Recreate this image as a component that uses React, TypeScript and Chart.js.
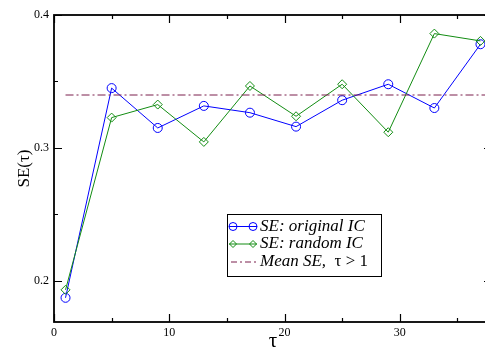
import React, { useEffect, useRef } from "react";
import { Chart, registerables } from "chart.js";

Chart.register(...registerables);

const TAU = [1, 5, 9, 13, 17, 21, 25, 29, 33, 37];
const SE_ORIGINAL = [0.1872, 0.345, 0.315, 0.3316, 0.3265, 0.316, 0.3359, 0.3479, 0.33, 0.378];
const SE_RANDOM = [0.1932, 0.3228, 0.3326, 0.3045, 0.3466, 0.3238, 0.3479, 0.3118, 0.386, 0.3805];
const MEAN_SE = 0.3398;
const MEAN_RANGE = [1, 38];
const X_MAJOR = [0, 10, 20, 30];
const X_MINOR = [5, 15, 25, 35];
const Y_MAJOR = [0.2, 0.3, 0.4];
const Y_MINOR = [0.25, 0.35];
const X_LABELS = ["0", "10", "20", "30"];
const Y_LABELS = ["0.2", "0.3", "0.4"];

const BLUE = "#0000ff";
const GREEN = "#128c12";
const MAROON = "#7a1f4c";
const SERIF = '"Liberation Serif", "DejaVu Serif", serif';

const framePlugin = {
  id: "frame",
  afterDraw(chart: any) {
    const { ctx, chartArea: a, scales } = chart;
    const xs = scales.x;
    const ys = scales.y;
    ctx.save();
    ctx.strokeStyle = "#000";
    ctx.lineWidth = 1.8;
    ctx.strokeRect(a.left, a.top, a.right - a.left, a.bottom - a.top);
    ctx.lineWidth = 1.2;
    const tick = (vals: number[], len: number, horiz: boolean) => {
      vals.forEach((v) => {
        ctx.beginPath();
        if (horiz) {
          const px = Math.round(xs.getPixelForValue(v)) + 0.5;
          ctx.moveTo(px, a.bottom);
          ctx.lineTo(px, a.bottom - len);
          ctx.moveTo(px, a.top);
          ctx.lineTo(px, a.top + len);
        } else {
          const py = Math.round(ys.getPixelForValue(v)) + 0.5;
          ctx.moveTo(a.left, py);
          ctx.lineTo(a.left + len, py);
          ctx.moveTo(a.right, py);
          ctx.lineTo(a.right - len, py);
        }
        ctx.stroke();
      });
    };
    tick(X_MAJOR, 8, true);
    tick(X_MINOR, 4, true);
    tick(Y_MAJOR, 8, false);
    tick(Y_MINOR, 4, false);

    ctx.fillStyle = "#000";
    ctx.font = `12px ${SERIF}`;
    ctx.textAlign = "center";
    ctx.textBaseline = "top";
    X_MAJOR.forEach((v, i) => {
      ctx.fillText(X_LABELS[i], xs.getPixelForValue(v), a.bottom + 5);
    });
    ctx.textAlign = "right";
    ctx.textBaseline = "middle";
    Y_MAJOR.forEach((v, i) => {
      ctx.fillText(Y_LABELS[i], a.left - 5, ys.getPixelForValue(v));
    });

    // axis titles
    ctx.font = `21px ${SERIF}`;
    ctx.textAlign = "center";
    ctx.textBaseline = "alphabetic";
    ctx.fillText("τ", 273, a.bottom + 25);
    ctx.save();
    ctx.translate(29, (a.top + a.bottom) / 2);
    ctx.rotate(-Math.PI / 2);
    ctx.font = `17px ${SERIF}`;
    ctx.fillText("SE(τ)", 0, 0);
    ctx.restore();

    // legend
    const lx = 227, ly = 214, lw = 154, lh = 62;
    ctx.fillStyle = "#fff";
    ctx.fillRect(lx, ly, lw, lh);
    ctx.strokeStyle = "#000";
    ctx.lineWidth = 1;
    ctx.strokeRect(lx + 0.5, ly + 0.5, lw, lh);
    const rows = [ly + 12.5, ly + 30, ly + 48];
    ctx.strokeStyle = BLUE;
    ctx.beginPath();
    ctx.moveTo(229, rows[0]);
    ctx.lineTo(257, rows[0]);
    ctx.stroke();
    [233, 253].forEach((cx) => {
      ctx.beginPath();
      ctx.arc(cx, rows[0], 4, 0, Math.PI * 2);
      ctx.stroke();
    });
    ctx.strokeStyle = GREEN;
    ctx.beginPath();
    ctx.moveTo(229, rows[1]);
    ctx.lineTo(257, rows[1]);
    ctx.stroke();
    [233, 253].forEach((cx) => {
      ctx.beginPath();
      ctx.moveTo(cx, rows[1] - 3.5);
      ctx.lineTo(cx + 3.5, rows[1]);
      ctx.lineTo(cx, rows[1] + 3.5);
      ctx.lineTo(cx - 3.5, rows[1]);
      ctx.closePath();
      ctx.stroke();
    });
    ctx.strokeStyle = MAROON;
    ctx.setLineDash([6, 3, 2, 3]);
    ctx.beginPath();
    ctx.moveTo(231, rows[2]);
    ctx.lineTo(256, rows[2]);
    ctx.stroke();
    ctx.setLineDash([]);

    ctx.fillStyle = "#000";
    ctx.textAlign = "left";
    ctx.textBaseline = "middle";
    ctx.font = `italic 17px ${SERIF}`;
    ctx.fillText("SE: original IC", 260, rows[0]);
    ctx.fillText("SE: random IC", 260, rows[1]);
    const t3 = "Mean SE,";
    ctx.fillText(t3, 260, rows[2]);
    const w3 = ctx.measureText(t3).width;
    ctx.font = `17px ${SERIF}`;
    ctx.fillText("  τ > 1", 260 + w3, rows[2]);
    ctx.restore();
  },
};

export default function App() {
  const ref = useRef<HTMLCanvasElement | null>(null);
  useEffect(() => {
    if (!ref.current) return;
    const chart = new Chart(ref.current, {
      type: "line",
      data: {
        datasets: [
          {
            label: "Mean SE, τ > 1",
            data: MEAN_RANGE.map((x) => ({ x, y: MEAN_SE })),
            borderColor: MAROON,
            borderWidth: 1,
            borderDash: [8, 3, 2, 3],
            pointRadius: 0,
            fill: false,
          },
          {
            label: "SE: random IC",
            data: TAU.map((x, i) => ({ x, y: SE_RANDOM[i] })),
            borderColor: GREEN,
            borderWidth: 1,
            pointStyle: "rectRot",
            pointRadius: 4.5,
            pointBorderWidth: 1,
            pointBorderColor: GREEN,
            pointBackgroundColor: "rgba(0,0,0,0)",
            fill: false,
          },
          {
            label: "SE: original IC",
            data: TAU.map((x, i) => ({ x, y: SE_ORIGINAL[i] })),
            borderColor: BLUE,
            borderWidth: 1,
            pointStyle: "circle",
            pointRadius: 4.5,
            pointBorderWidth: 1,
            pointBorderColor: BLUE,
            pointBackgroundColor: "rgba(0,0,0,0)",
            fill: false,
          },
        ],
      },
      options: {
        animation: false,
        responsive: false,
        layout: { padding: { left: 54, top: 15, right: 8, bottom: 27 } },
        scales: {
          x: { type: "linear", min: 0, max: 38, display: false },
          y: { type: "linear", min: 0.169, max: 0.4, display: false },
        },
        plugins: { legend: { display: false }, tooltip: { enabled: false } },
      },
      plugins: [framePlugin],
    });
    return () => chart.destroy();
  }, []);
  return (
    <div style={{ position: "absolute", left: 0, top: 0, width: 485, height: 349, overflow: "hidden", background: "#fff" }}>
      <canvas ref={ref} width={500} height={349} style={{ display: "block" }} />
    </div>
  );
}
